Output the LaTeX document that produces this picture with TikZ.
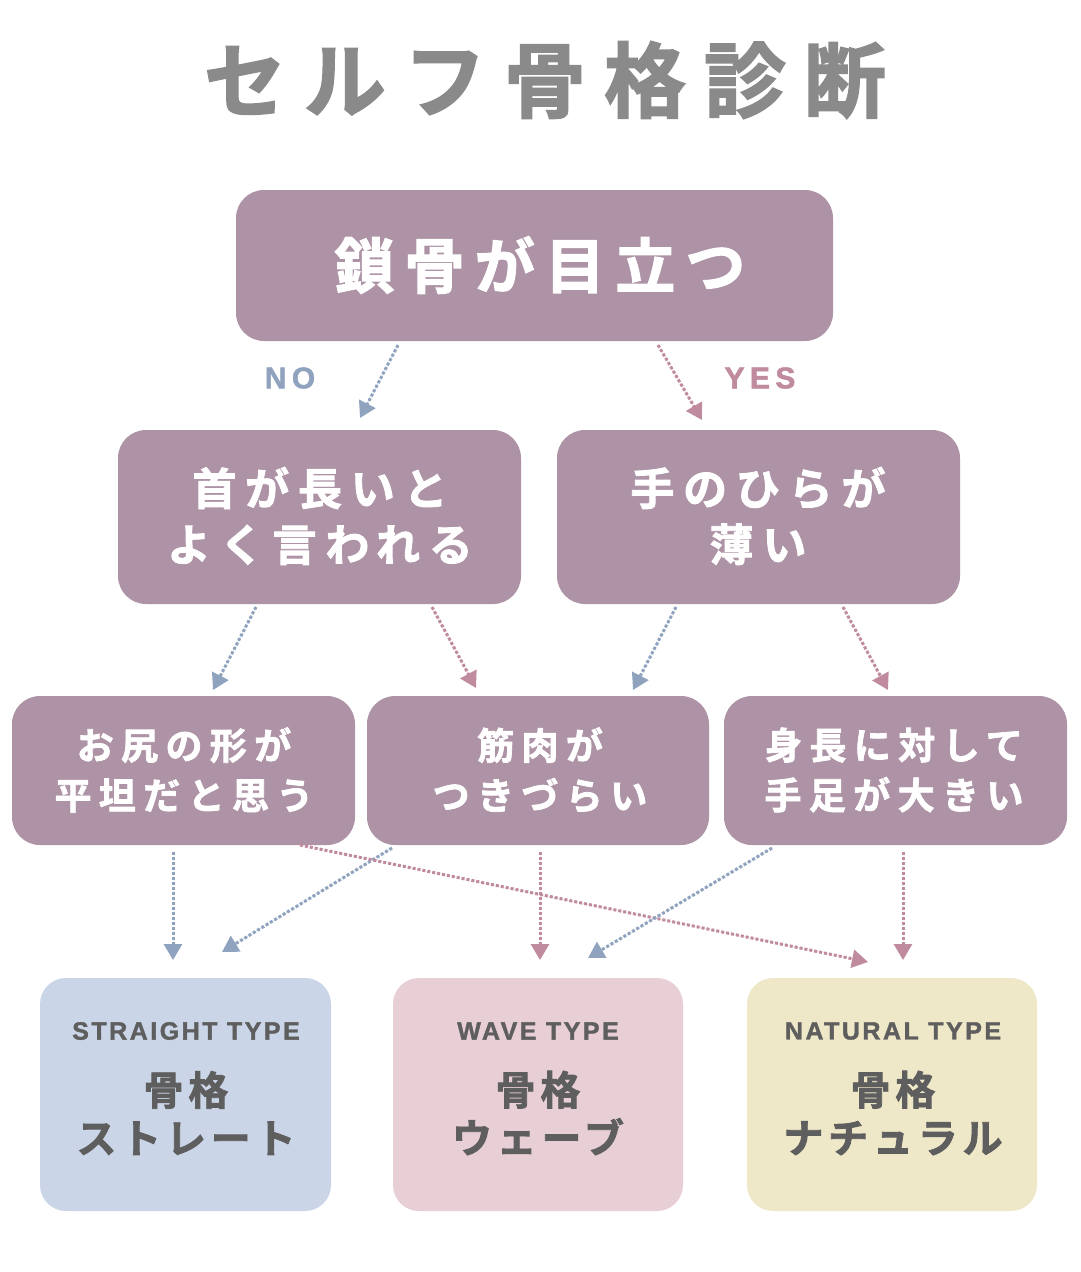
\documentclass[tikz,border=0pt]{standalone}
\usepackage{fontspec}
\usetikzlibrary{arrows.meta}
\setmainfont{Noto Sans CJK JP}[BoldFont={* Bold},BoldFeatures={FakeBold=2}]
\newfontfamily\lat{Liberation Sans}[BoldFont={* Bold},BoldFeatures={FakeBold=1.5}]
\definecolor{boxc}{HTML}{AD93A5}
\definecolor{titc}{HTML}{8A8A8A}
\definecolor{bl}{HTML}{8FA3BF}
\definecolor{pk}{HTML}{C08A9F}
\definecolor{fb}{HTML}{CBD5E8}
\definecolor{fp}{HTML}{E8CED5}
\definecolor{fy}{HTML}{EEE8C8}
\definecolor{tx}{HTML}{5E5E5E}
\begin{document}
\begin{tikzpicture}[x=1pt,y=-1pt,
 q/.style={fill=boxc,rounded corners=28pt,draw=none},
 fin/.style={rounded corners=26pt,draw=none},
 wt/.style={text=white,align=center,inner sep=0},
 gt/.style={text=tx,align=center,inner sep=0},
 ar/.style={line width=3pt,dotted,-{Triangle[width=18pt,length=16pt]}},
 ab/.style={ar,draw=bl,fill=bl},
 ap/.style={ar,draw=pk,fill=pk}]
\useasboundingbox (0,0) rectangle (1080,1272);
\fill[white] (0,0) rectangle (1080,1272);
\node[text=titc,font=\fontsize{82}{84}\selectfont\bfseries\addfontfeatures{LetterSpace=22},inner sep=0] (title) at (545,80) {セルフ骨格診断};
\fill[q] (236,190) rectangle (833,341);
\node[wt,font=\fontsize{60}{60}\selectfont\bfseries\addfontfeatures{LetterSpace=17}] (a) at (540,265) {鎖骨が目立つ};
\node[text=bl,font=\fontsize{30}{30}\selectfont\lat\bfseries\addfontfeatures{LetterSpace=18},inner sep=0] (no) at (290,378) {NO};
\node[text=pk,font=\fontsize{30}{30}\selectfont\lat\bfseries\addfontfeatures{LetterSpace=18},inner sep=0] (yes) at (760,378) {YES};
\fill[q] (118,430) rectangle (521,604);
\fill[q] (557,430) rectangle (960,604);
\node[wt,font=\fontsize{44}{56}\selectfont\bfseries\addfontfeatures{LetterSpace=20}] (b1) at (320,516) {首が長いと\\よく言われる};
\node[wt,font=\fontsize{44}{56}\selectfont\bfseries\addfontfeatures{LetterSpace=20}] (b2) at (758,516) {手のひらが\\薄い};
\fill[q] (12,696) rectangle (355,845);
\fill[q] (367,696) rectangle (709,845);
\fill[q] (724,696) rectangle (1067,845);
\node[wt,font=\fontsize{37}{50}\selectfont\bfseries\addfontfeatures{LetterSpace=20}] (c1) at (184,770) {お尻の形が\\平坦だと思う};
\node[wt,font=\fontsize{37}{50}\selectfont\bfseries\addfontfeatures{LetterSpace=20}] (c2) at (540,770) {筋肉が\\つきづらい};
\node[wt,font=\fontsize{37}{50}\selectfont\bfseries\addfontfeatures{LetterSpace=20}] (c3) at (894,770) {身長に対して\\手足が大きい};
\fill[fin,fill=fb] (40,978) rectangle (331,1211);
\fill[fin,fill=fp] (393,978) rectangle (683,1211);
\fill[fin,fill=fy] (747,978) rectangle (1037,1211);
\foreach \n/\x/\e/\j in {s/186/STRAIGHT TYPE/ストレート, w/538/WAVE TYPE/ウェーブ, t/893/NATURAL TYPE/ナチュラル}{
 \node[gt,font=\fontsize{25}{25}\selectfont\lat\bfseries\addfontfeatures{LetterSpace=10}] (\n e) at (\x,1031) {\e};
 \node[gt,font=\fontsize{40}{48}\selectfont\bfseries\addfontfeatures{LetterSpace=12}] (\n j) at (\x,1113) {骨格\\\j};
}
\coordinate (p1) at (398,345); \coordinate (q1) at (360,418);
\coordinate (p2) at (658,345); \coordinate (q2) at (702,420);
\draw[ab] (p1) -- (q1); \draw[ap] (p2) -- (q2);
\coordinate (p3) at (256,607); \coordinate (q3) at (213,690);
\coordinate (p4) at (432,607); \coordinate (q4) at (476,688);
\coordinate (p5) at (676,607); \coordinate (q5) at (633,690);
\coordinate (p6) at (843,607); \coordinate (q6) at (888,690);
\draw[ab] (p3) -- (q3); \draw[ap] (p4) -- (q4);
\draw[ab] (p5) -- (q5); \draw[ap] (p6) -- (q6);
\coordinate (r1) at (173,852); \coordinate (s1) at (173,960);
\coordinate (r2) at (392,848); \coordinate (s2) at (222,952);
\coordinate (r3) at (300,845); \coordinate (s3) at (868,962);
\coordinate (r4) at (540,852); \coordinate (s4) at (540,960);
\coordinate (r5) at (772,848); \coordinate (s5) at (588,958);
\coordinate (r6) at (903,852); \coordinate (s6) at (903,960);
\draw[ab] (r1) -- (s1); \draw[ab] (r2) -- (s2); \draw[ap] (r3) -- (s3);
\draw[ap] (r4) -- (s4); \draw[ab] (r5) -- (s5); \draw[ap] (r6) -- (s6);
\end{tikzpicture}
\end{document}
